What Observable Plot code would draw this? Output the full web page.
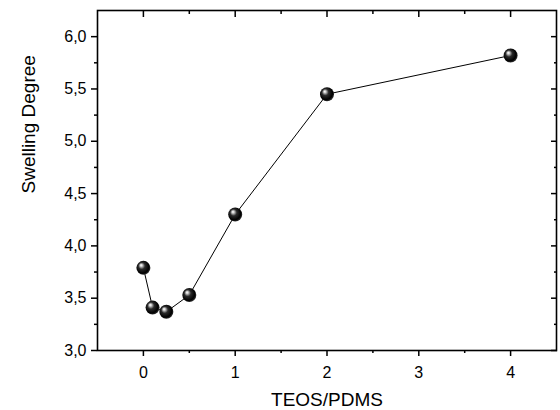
<!DOCTYPE html>
<html><head><meta charset="utf-8">
<script src="https://cdn.jsdelivr.net/npm/d3@7"></script>
<script src="https://cdn.jsdelivr.net/npm/@observablehq/plot@0.6"></script>
<style>body{margin:0;background:#fff;}</style>
</head><body><div id="chart"></div>
<script>
const ratio = [0, 0.1, 0.25, 0.5, 1, 2, 4];
const swelling = [3.79, 3.41, 3.37, 3.53, 4.30, 5.45, 5.82];
const xMajor = [0, 1, 2, 3, 4];
const xMinor = [0.5, 1.5, 2.5, 3.5];
const yMajor = [3.0, 3.5, 4.0, 4.5, 5.0, 5.5, 6.0];
const yMinor = [3.25, 3.75, 4.25, 4.75, 5.25, 5.75];
const xTitle = "TEOS/PDMS";
const yTitle = "Swelling Degree";

const data = ratio.map((x, i) => ({x, y: swelling[i]}));
const fmt = d => d.toFixed(1).replace(".", ",");
const font = "'Liberation Sans', Arial, sans-serif";
const none = () => "";
const tk = {stroke: "black", strokeWidth: 1.5, tickFormat: none, label: null};

const plot = Plot.plot({
  width: 560, height: 410,
  marginLeft: 97, marginRight: 4, marginTop: 10, marginBottom: 60,
  style: {fontFamily: font, fontSize: "16px", color: "black", background: "white", overflow: "visible"},
  x: {domain: [-0.5, 4.5], label: null},
  y: {domain: [3, 6.25], label: null},
  marks: [
    Plot.axisX(xMajor, {anchor: "bottom", tickSize: 6, ...tk}),
    Plot.axisX(xMinor, {anchor: "bottom", tickSize: 3, ...tk}),
    Plot.axisX(xMajor, {anchor: "top", tickSize: -6, ...tk}),
    Plot.axisX(xMinor, {anchor: "top", tickSize: -3, ...tk}),
    Plot.axisY(yMajor, {anchor: "left", tickSize: 6, ...tk}),
    Plot.axisY(yMinor, {anchor: "left", tickSize: 3, ...tk}),
    Plot.axisY(yMajor, {anchor: "right", tickSize: -6, ...tk}),
    Plot.axisY(yMinor, {anchor: "right", tickSize: -3, ...tk}),
    Plot.text(xMajor, {x: d => d, frameAnchor: "bottom", dy: 22, lineAnchor: "middle", text: d => String(d), fontSize: 16}),
    Plot.text(yMajor, {y: d => d, frameAnchor: "left", dx: -11, textAnchor: "end", lineAnchor: "middle", text: fmt, fontSize: 16}),
    Plot.text([xTitle], {frameAnchor: "bottom", dy: 49, lineAnchor: "middle", text: d => d, fontSize: 19}),
    Plot.text([yTitle], {frameAnchor: "left", dx: -69, dy: 13, rotate: -90, lineAnchor: "middle", text: d => d, fontSize: 19}),
    Plot.frame({stroke: "black", strokeWidth: 1.6}),
    Plot.line(data, {x: "x", y: "y", stroke: "black", strokeWidth: 1}),
    Plot.dot(data, {x: "x", y: "y", r: 7, fill: "url(#ball)", stroke: "none"})
  ]
});

const ns = "http://www.w3.org/2000/svg";
const defs = document.createElementNS(ns, "defs");
defs.innerHTML = `<radialGradient id="ball" cx="0.45" cy="0.45" r="0.6" fx="0.33" fy="0.3">
  <stop offset="0" stop-color="#ffffff"/>
  <stop offset="0.12" stop-color="#d8d8d8"/>
  <stop offset="0.4" stop-color="#2a2a2a"/>
  <stop offset="0.78" stop-color="#000000"/>
  <stop offset="1" stop-color="#404040"/>
</radialGradient>`;
const svg = plot.tagName.toLowerCase() === "svg" ? plot : plot.querySelector("svg");
svg.insertBefore(defs, svg.firstChild);
document.getElementById("chart").appendChild(plot);
</script>
</body></html>
